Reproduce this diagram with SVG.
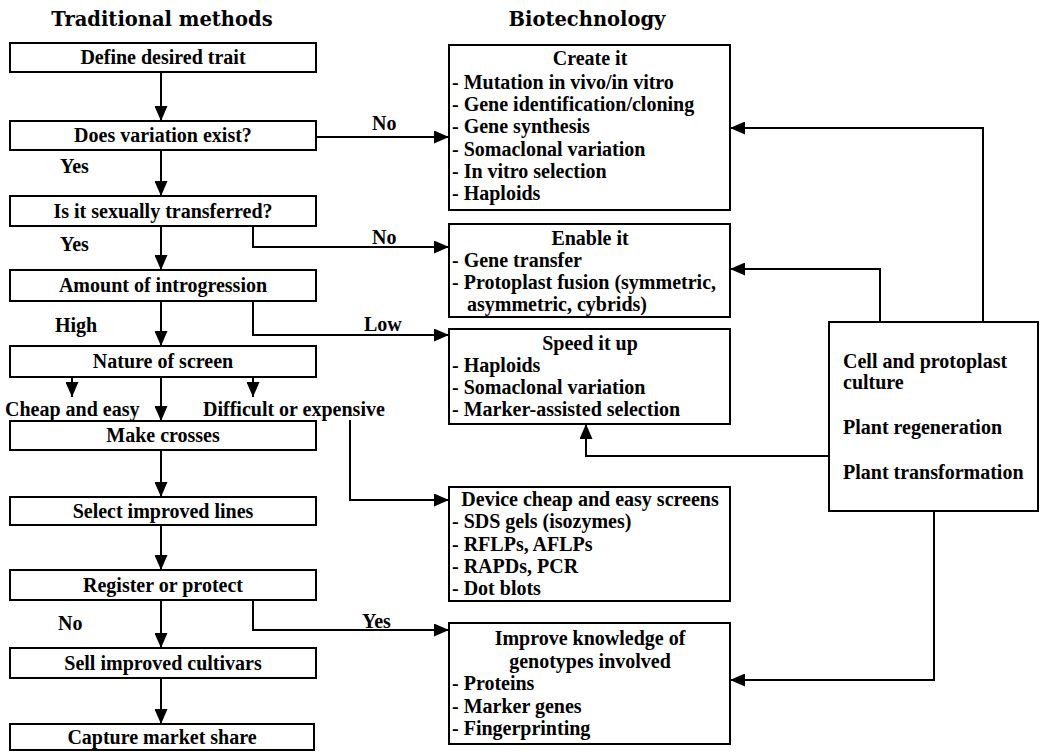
<svg xmlns="http://www.w3.org/2000/svg" width="1042" height="752" viewBox="0 0 1042 752">
<defs>
<marker id="ah" markerUnits="userSpaceOnUse" markerWidth="15" markerHeight="13" refX="15" refY="6.5" orient="auto">
<path d="M0,0 L15,6.5 L0,13 z" fill="#000"/>
</marker>
<style>
rect{fill:#fff;stroke:#000;stroke-width:2}
text{font-family:"Liberation Serif","Times New Roman",serif;font-weight:bold;font-size:20px;fill:#000}
.t{font-family:"DejaVu Serif",serif;font-size:19.5px}
.c{text-anchor:middle}
#connectors path{fill:none;stroke:#000;stroke-width:2;marker-end:url(#ah)}
</style>
</defs>
<rect x="0" y="0" width="1042" height="752" style="stroke:none"/>
<text class="t c" x="162" y="26">Traditional methods</text>
<text class="t c" x="587" y="26">Biotechnology</text>

<g id="n1"><rect x="10" y="43" width="306" height="29"/><text class="c" x="163" y="64">Define desired trait</text></g>
<g id="n2"><rect x="10" y="121" width="306" height="29"/><text class="c" x="163" y="142">Does variation exist?</text></g>
<g id="n3"><rect x="10" y="196" width="306" height="30"/><text class="c" x="163" y="218">Is it sexually transferred?</text></g>
<g id="n4"><rect x="10" y="270" width="306" height="31"/><text class="c" x="163" y="292">Amount of introgression</text></g>
<g id="n5"><rect x="10" y="346" width="306" height="31"/><text class="c" x="163" y="368">Nature of screen</text></g>
<g id="n6"><rect x="10" y="421" width="306" height="29"/><text class="c" x="163" y="442">Make crosses</text></g>
<g id="n7"><rect x="10" y="497" width="306" height="28"/><text class="c" x="163" y="518">Select improved lines</text></g>
<g id="n8"><rect x="10" y="570" width="306" height="30"/><text class="c" x="163" y="592">Register or protect</text></g>
<g id="n9"><rect x="10" y="648" width="306" height="30"/><text class="c" x="163" y="670">Sell improved cultivars</text></g>
<g id="n10"><rect x="10" y="724" width="304" height="26"/><text class="c" x="162" y="744">Capture market share</text></g>

<g id="create"><rect x="449" y="45" width="281" height="165"/>
<text class="c" x="590" y="65">Create it</text>
<text x="452" y="89">- Mutation in vivo/in vitro</text>
<text x="452" y="111">- Gene identification/cloning</text>
<text x="452" y="133">- Gene synthesis</text>
<text x="452" y="156">- Somaclonal variation</text>
<text x="452" y="178">- In vitro selection</text>
<text x="452" y="200">- Haploids</text></g>

<g id="enable"><rect x="449" y="224" width="281" height="93"/>
<text class="c" x="590" y="245">Enable it</text>
<text x="452" y="267">- Gene transfer</text>
<text x="452" y="289">- Protoplast fusion (symmetric,</text>
<text x="467" y="311">asymmetric, cybrids)</text></g>

<g id="speed"><rect x="449" y="329" width="281" height="95"/>
<text class="c" x="590" y="350">Speed it up</text>
<text x="452" y="372">- Haploids</text>
<text x="452" y="394">- Somaclonal variation</text>
<text x="452" y="416">- Marker-assisted selection</text></g>

<g id="device"><rect x="449" y="487" width="281" height="114"/>
<text class="c" x="590" y="506">Device cheap and easy screens</text>
<text x="452" y="528">- SDS gels (isozymes)</text>
<text x="452" y="551">- RFLPs, AFLPs</text>
<text x="452" y="573">- RAPDs, PCR</text>
<text x="452" y="595">- Dot blots</text></g>

<g id="improve"><rect x="449" y="623" width="281" height="121"/>
<text class="c" x="590" y="645">Improve knowledge of</text>
<text class="c" x="590" y="668">genotypes involved</text>
<text x="452" y="690">- Proteins</text>
<text x="452" y="713">- Marker genes</text>
<text x="452" y="735">- Fingerprinting</text></g>

<g id="cell"><rect x="829" y="322" width="209" height="189"/>
<text x="843" y="368">Cell and protoplast</text>
<text x="843" y="389">culture</text>
<text x="843" y="434">Plant regeneration</text>
<text x="843" y="479">Plant transformation</text></g>

<g id="connectors">
<path d="M161,72 V121"/>
<path d="M161,150 V196"/>
<path d="M161,226 V270"/>
<path d="M161,301 V346"/>
<path d="M161,377 V421"/>
<path d="M72,377 V397"/>
<path d="M253,377 V397"/>
<path d="M161,450 V497"/>
<path d="M161,525 V570"/>
<path d="M161,600 V648"/>
<path d="M161,678 V724"/>
<path d="M316,137 H449"/>
<path d="M253,226 V247 H449"/>
<path d="M253,301 V335 H449"/>
<path d="M350,420 V500 H449"/>
<path d="M253,600 V630 H449"/>
<path d="M983,322 V128 H730"/>
<path d="M880,322 V269 H730"/>
<path d="M829,456 H586 V424"/>
<path d="M934,511 V680 H730"/>
</g>

<g id="labels">
<text x="60" y="173">Yes</text>
<text x="60" y="251">Yes</text>
<text x="55" y="332">High</text>
<text x="5" y="416">Cheap and easy</text>
<text x="203" y="416">Difficult or expensive</text>
<text x="58" y="630">No</text>
<text x="372" y="130">No</text>
<text x="372" y="244">No</text>
<text x="364" y="331">Low</text>
<text x="362" y="628">Yes</text>
</g>
</svg>
